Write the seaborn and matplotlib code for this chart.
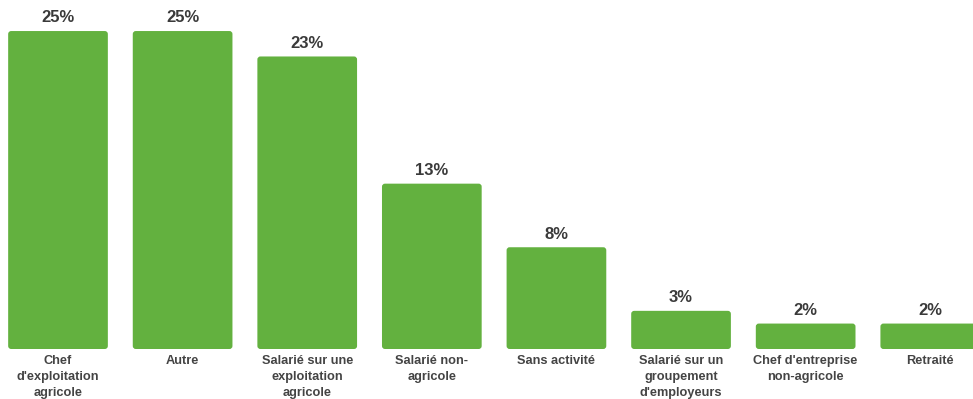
import matplotlib
matplotlib.use("Agg")
import matplotlib.pyplot as plt
from matplotlib.patches import FancyBboxPatch
import seaborn as sns
import pandas as pd

categories = [
    "Chef\nd'exploitation\nagricole",
    "Autre",
    "Salarié sur une\nexploitation\nagricole",
    "Salarié non-\nagricole",
    "Sans activité",
    "Salarié sur un\ngroupement\nd'employeurs",
    "Chef d'entreprise\nnon-agricole",
    "Retraité",
]
values = [25, 25, 23, 13, 8, 3, 2, 2]
value_labels = [f"{v}%" for v in values]

BAR_COLOR = "#63b13f"
TEXT_COLOR = "#3a3a3a"

sns.set_theme(style="white")
plt.rcParams["font.family"] = ["Liberation Sans", "DejaVu Sans"]

df = pd.DataFrame({"categorie": categories, "part": values})

fig = plt.figure(figsize=(9.73, 3.99), dpi=100)
ax = fig.add_axes([0.0, 50 / 399, 1.0, 349 / 399])

sns.barplot(data=df, x="categorie", y="part", color=BAR_COLOR,
            saturation=1, width=0.8, ax=ax)

ax.set_xlim(-0.4655, 7.343)
ax.set_ylim(0, 27.44)

# swap plain rectangles for slightly rounded ones
xr = 3 / 124.6
yr = 3 / 12.72
for p in list(ax.patches):
    x, y = p.get_x(), p.get_y()
    w, h = p.get_width(), p.get_height()
    fb = FancyBboxPatch((x, y), w, h,
                        boxstyle=f"round,pad=0,rounding_size={xr}",
                        mutation_aspect=yr / xr,
                        facecolor=BAR_COLOR, edgecolor="none")
    p.remove()
    ax.add_patch(fb)

for i, (v, lab) in enumerate(zip(values, value_labels)):
    ax.annotate(lab, (i, v), xytext=(0, 4), textcoords="offset points",
                ha="center", va="bottom", fontsize=12, fontweight="bold",
                color=TEXT_COLOR)

ax.set_xlabel("")
ax.set_ylabel("")
ax.set_yticks([])
ax.set_xticks(range(len(categories)))
ax.set_xticklabels(categories, fontsize=9.2, fontweight="bold",
                   color="#444444", linespacing=1.45)
ax.tick_params(axis="x", length=0, pad=4.5)
for s in ax.spines.values():
    s.set_visible(False)

fig.savefig("out.png", dpi=100)
